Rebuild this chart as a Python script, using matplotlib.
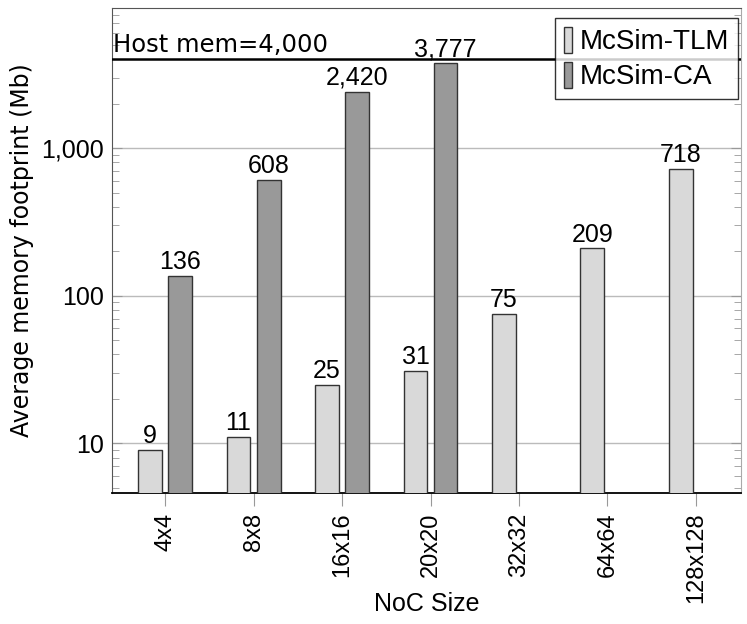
import numpy as np
import matplotlib.pyplot as plt
from matplotlib.ticker import FixedLocator, LogLocator, NullFormatter
from matplotlib.patches import Patch

# Data
sizes = ['4x4', '8x8', '16x16', '20x20', '32x32', '64x64', '128x128']
tlm = [9, 11, 25, 31, 75, 209, 718]
ca = [136, 608, 2420, 3777, None, None, None]
host_mem = 4000

plt.rcParams['font.family'] = 'Liberation Sans'
fs = 18
fig = plt.figure(figsize=(7.47, 6.24), dpi=100)
ax = fig.add_axes([0.150, 0.210, 0.842, 0.777])

x = np.arange(len(sizes))
off = 0.17
w = 0.27

for i in range(len(sizes)):
    ax.bar(x[i] - off, tlm[i], w, color='#d9d9d9', edgecolor='#333333', linewidth=1, zorder=3)
    ax.text(x[i] - off, tlm[i] * 1.03, f'{tlm[i]:,}', ha='center', va='bottom', fontsize=fs, zorder=4)
    if ca[i] is not None:
        ax.bar(x[i] + off, ca[i], w, color='#999999', edgecolor='#333333', linewidth=1, zorder=3)
        ax.text(x[i] + off, ca[i] * 1.03, f'{ca[i]:,}', ha='center', va='bottom', fontsize=fs, zorder=4)

# host memory line
ax.axhline(host_mem, color='black', linewidth=1.8, zorder=5)
ax.text(-0.59, host_mem * 1.03, f'Host mem={host_mem:,}', ha='left', va='bottom',
        fontsize=17.5, family='DejaVu Sans')

ax.set_yscale('log')
ax.set_ylim(4.6, 8900)
ax.set_xlim(-0.6, 6.51)

ax.yaxis.set_major_locator(FixedLocator([10, 100, 1000]))
ax.set_yticklabels(['10', '100', '1,000'])
ax.yaxis.set_minor_locator(LogLocator(base=10, subs=np.arange(2, 10)))
ax.yaxis.set_minor_formatter(NullFormatter())
ax.tick_params(axis='y', which='both', direction='in', left=True, right=True,
               color='#999999', labelsize=fs, pad=6)
ax.tick_params(axis='y', which='major', length=7)
ax.tick_params(axis='y', which='minor', length=5)
ax.grid(axis='y', which='major', color='#bbbbbb', linewidth=1, zorder=0)

ax.set_xticks(x)
ax.set_xticklabels(sizes, rotation=90, fontsize=17)
ax.tick_params(axis='x', direction='out', length=9, color='#999999', pad=5)

for s in ['left', 'top']:
    ax.spines[s].set_color('#555555')
ax.spines['right'].set_color('#aaaaaa')
ax.spines['bottom'].set_color('black')
ax.spines['bottom'].set_linewidth(1.3)

ax.set_xlabel('NoC Size', fontsize=fs)
ax.xaxis.set_label_coords(0.5, -0.205)
ax.set_ylabel('Average memory footprint (Mb)', fontsize=17, family='DejaVu Sans')
ax.yaxis.set_label_coords(-0.124, 0.5)

handles = [Patch(facecolor='#d9d9d9', edgecolor='#333333', label='McSim-TLM'),
           Patch(facecolor='#999999', edgecolor='#333333', label='McSim-CA')]
leg = ax.legend(handles=handles, loc='upper right', fontsize=20, frameon=True,
                fancybox=False, edgecolor='black', handlelength=0.3, handleheight=1.1,
                handletextpad=0.3, borderpad=0.3, labelspacing=0.22, borderaxespad=0,
                bbox_to_anchor=(0.995, 0.979))
leg.get_frame().set_linewidth(1)

fig.savefig('out.png', dpi=100)
